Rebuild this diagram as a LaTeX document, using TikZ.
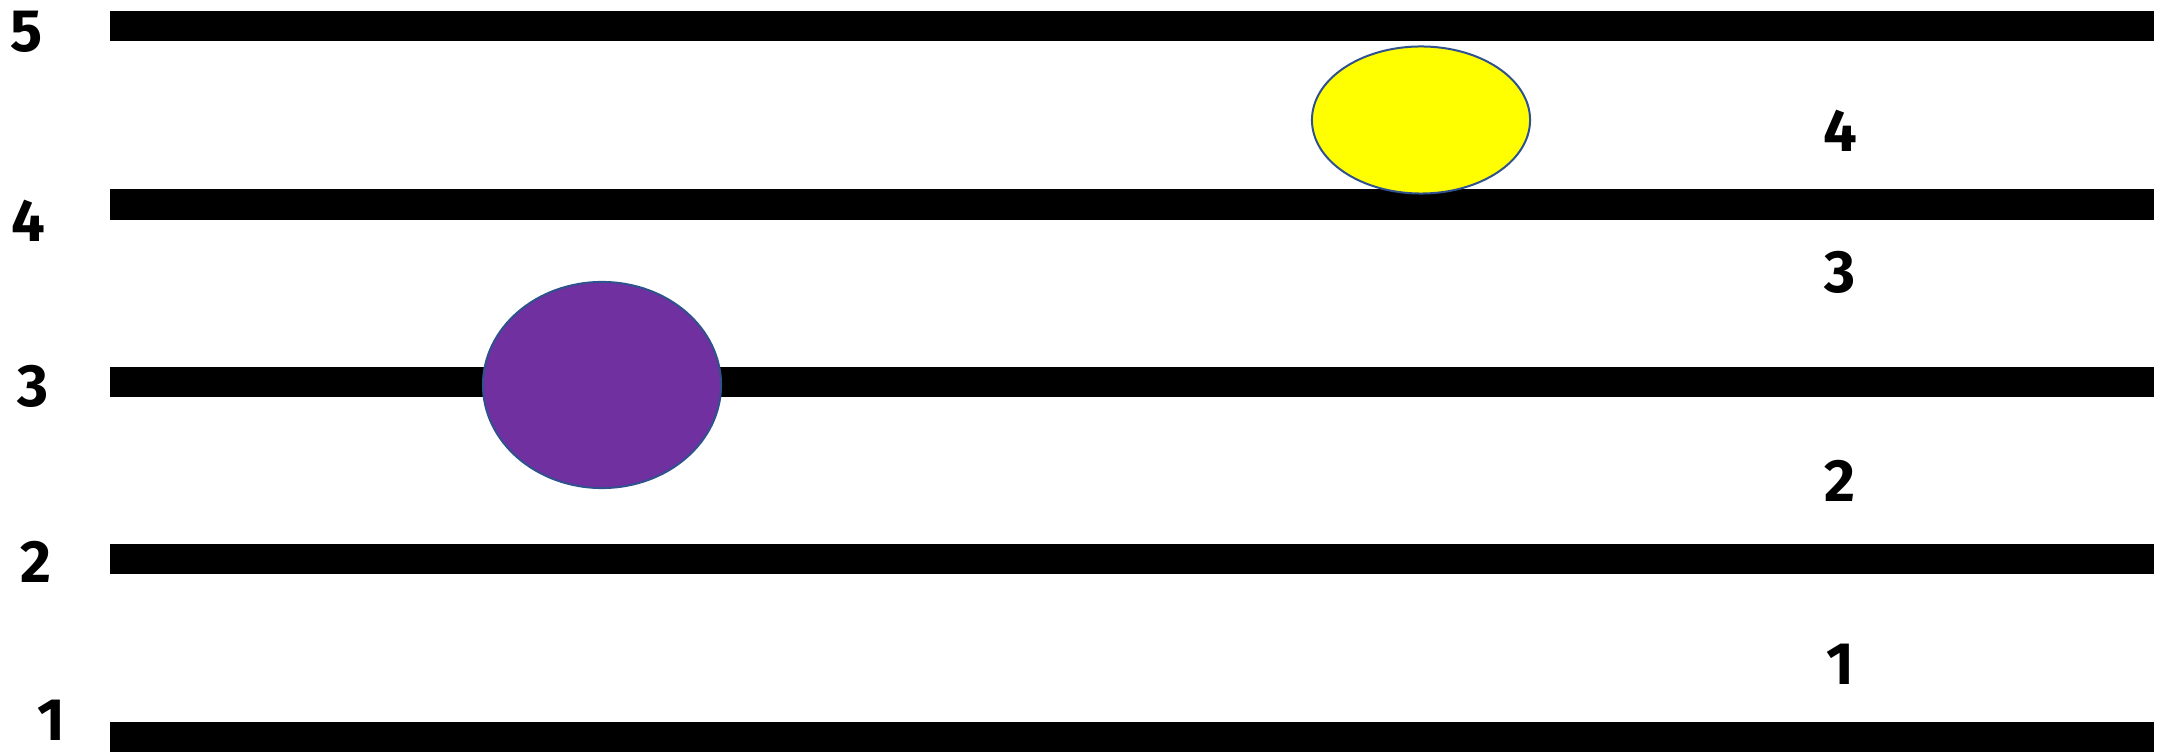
\documentclass[tikz,border=0pt]{standalone}
\usepackage{fontspec}
\setmainfont{Fira Sans}
\usetikzlibrary{shapes.geometric}
\definecolor{cpurple}{HTML}{7030A0}
\definecolor{cyellow}{HTML}{FFFF00}
\definecolor{cedge}{HTML}{2F528F}
\tikzset{
  every picture/.style={x=0.01cm, y=-0.01cm},
  bar/.style={draw=black, line width=3mm, line cap=butt},
  ball/.style={ellipse, draw=cedge, line width=0.2mm, fill=#1, inner sep=0pt},
  digit/.style={font=\fontsize{17}{20}\selectfont\bfseries, inner sep=0pt},
}
\begin{document}
\begin{tikzpicture}
  \useasboundingbox (0,0) rectangle (2157,752);
  % five horizontal bars
  \foreach \i/\y in {5/26, 4/204.5, 3/382, 2/559, 1/737} {
    \draw[bar] (110,\y) coordinate (l\i) -- (2154,\y) coordinate (r\i);
  }
  % numbers on the left, one per bar
  \foreach \i/\x/\y in {5/27/32, 4/28/221, 3/33/386, 2/36/562, 1/51/720} {
    \node[digit] (n\i) at (\x,\y) {\i};
  }
  % numbers on the right, one per gap
  \foreach \i/\y in {4/131, 3/272, 2/481, 1/664} {
    \node[digit] (g\i) at (1840,\y) {\i};
  }
  % the two balls
  \node[ball=cpurple, minimum width=2.38cm, minimum height=2.06cm] (purple) at (602,385) {};
  \node[ball=cyellow, minimum width=2.18cm, minimum height=1.47cm] (yellow) at (1421,120) {};
\end{tikzpicture}
\end{document}
